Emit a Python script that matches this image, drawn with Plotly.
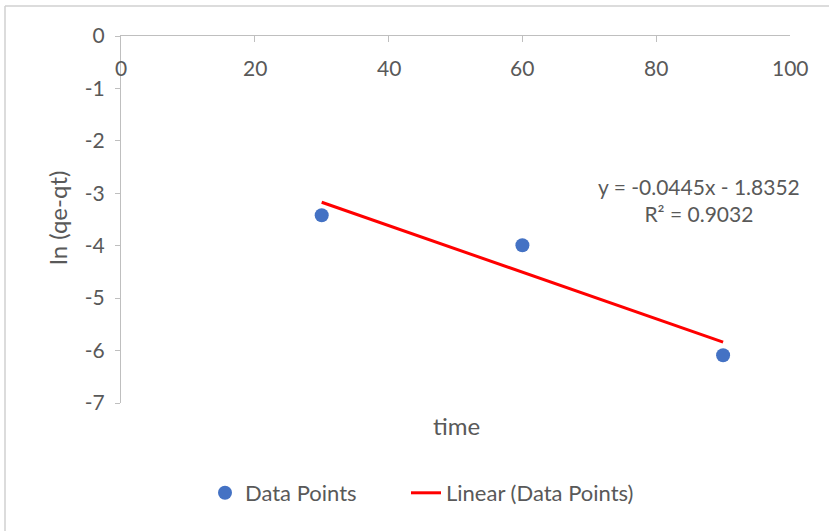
import plotly.graph_objects as go

time = [30, 60, 90]
ln_qe_qt = [-3.42, -3.99, -6.09]
slope = -0.0445
intercept = -1.8352
r_squared = 0.9032
trend_x = [30, 90]
trend_y = [slope * x + intercept for x in trend_x]

x_ticks = [0, 20, 40, 60, 80, 100]
y_ticks = [0, -1, -2, -3, -4, -5, -6, -7]

FONT = "Lato"
GRAY = "#595959"
AXIS = "#BFBFBF"
FS = 21

# plot area in pixels: left 121, right 790, top 36, bottom 403
PW, PH = 669.0, 367.0
def px(xp):
    return (xp - 121) / PW
def py(yp):
    return (403 - yp) / PH

fig = go.Figure()
fig.add_trace(go.Scatter(x=time, y=ln_qe_qt, mode="markers", name="Data Points",
                         marker=dict(color="#4472C4", size=14), legend="legend"))
fig.add_trace(go.Scatter(x=trend_x, y=trend_y, mode="lines", name="Linear (Data Points)",
                         line=dict(color="#FF0000", width=3), legend="legend2"))

annotations = [
    dict(text="time", xref="paper", yref="paper", x=px(456), y=py(425), showarrow=False,
         font=dict(size=24, color=GRAY), xanchor="center", yanchor="middle"),
    dict(text="ln (qe-qt)", xref="paper", yref="paper", x=px(57), y=py(218), showarrow=False,
         textangle=-90, font=dict(size=24, color=GRAY), xanchor="center", yanchor="middle"),
    dict(text=f"y = {slope}x - {abs(intercept)}<br>R² = {r_squared}", xref="x", yref="y",
         x=86.4, y=-3.12, showarrow=False, align="center",
         font=dict(size=FS, color=GRAY)),
]
for v in x_ticks:
    annotations.append(dict(text=str(v), xref="x", yref="paper", x=v, y=py(67),
                            showarrow=False, xanchor="center", yanchor="middle",
                            font=dict(size=FS, color=GRAY)))

leg_font = dict(size=22, color=GRAY)
fig.update_layout(
    width=829, height=531,
    margin=dict(l=121, r=39, t=36, b=128, autoexpand=False),
    paper_bgcolor="white", plot_bgcolor="white",
    font=dict(family=FONT, size=FS, color=GRAY),
    showlegend=True,
    legend=dict(orientation="h", x=px(205), xanchor="left", y=py(493), yanchor="middle",
                font=leg_font, bgcolor="rgba(0,0,0,0)"),
    legend2=dict(orientation="h", x=px(406), xanchor="left", y=py(493), yanchor="middle",
                 font=leg_font, bgcolor="rgba(0,0,0,0)"),
    xaxis=dict(range=[0, 100], tickvals=x_ticks, side="top", showline=True, linecolor=AXIS,
               linewidth=1, ticks="inside", ticklen=6, tickcolor=AXIS, showticklabels=False,
               showgrid=False, zeroline=False, automargin=False),
    yaxis=dict(range=[-7, 0], tickvals=y_ticks, ticktext=[str(v) for v in y_ticks],
               showline=True, linecolor=AXIS, linewidth=1,
               ticks="outside", ticklen=5, tickcolor=AXIS, showgrid=False, zeroline=False,
               tickfont=dict(size=FS, color=GRAY), automargin=False, ticklabelstandoff=6),
    shapes=[
        dict(type="line", xref="paper", yref="paper", x0=px(5), x1=px(829), y0=py(6), y1=py(6),
             line=dict(color="#D0D0D0", width=1.5), layer="above"),
        dict(type="line", xref="paper", yref="paper", x0=px(5), x1=px(5), y0=py(6), y1=py(531),
             line=dict(color="#D0D0D0", width=1.5), layer="above"),
    ],
    annotations=annotations,
)

fig.write_html("out.html", config={"displayModeBar": False},
               post_script="document.body.style.margin='0';")
